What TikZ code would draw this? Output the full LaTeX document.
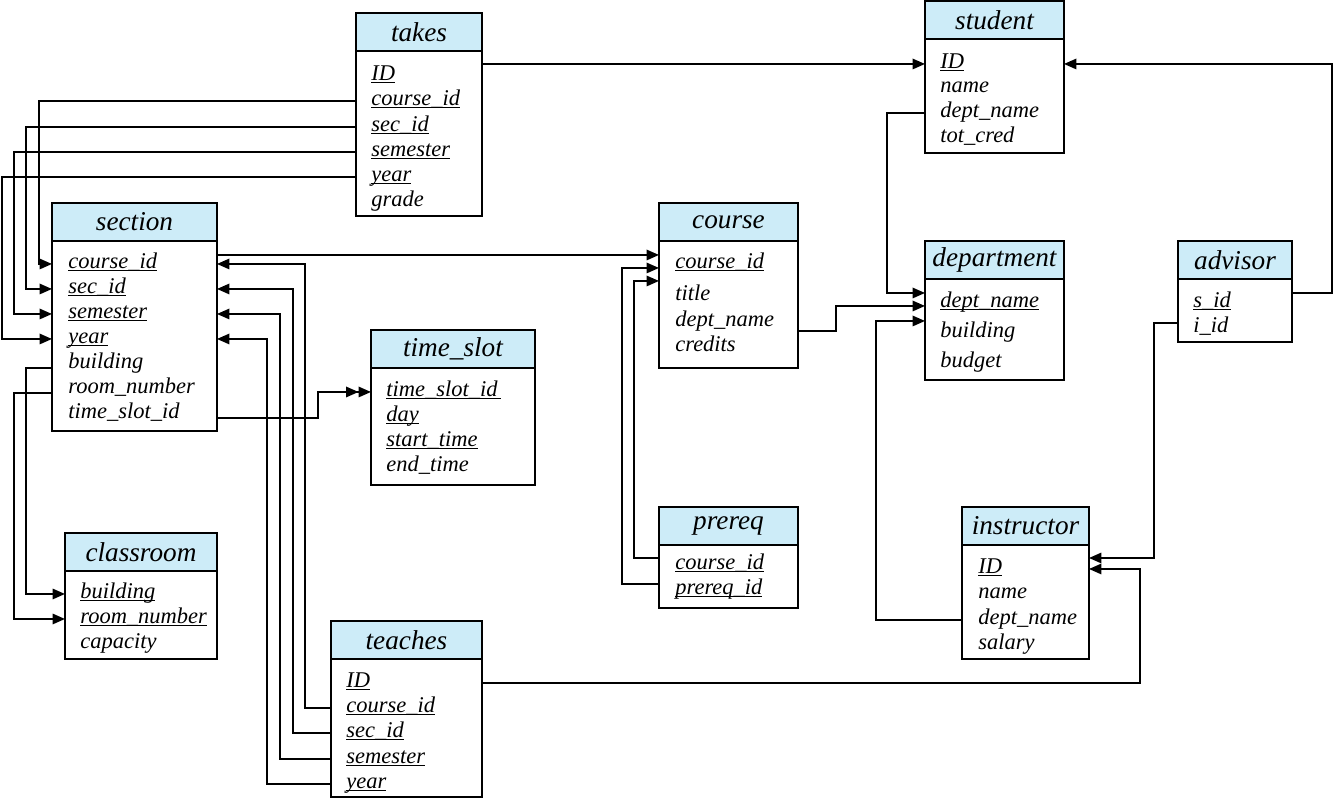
\documentclass[tikz,border=0pt]{standalone}
\usepackage{fontspec}
\setmainfont{Liberation Serif}
\usetikzlibrary{positioning,arrows.meta}
\definecolor{hdrblue}{RGB}{205,236,248}
\newcommand\pk[1]{\underline{\smash{#1}}}

\begin{document}
\begin{tikzpicture}[x=0.02cm,y=-0.02cm,
  hdr/.style={draw,line width=1.3pt,fill=hdrblue,anchor=north west,minimum height=0.76cm,
    inner sep=0pt,outer sep=0pt,font=\fontsize{15.5}{18}\selectfont\itshape},
  body/.style={draw,line width=1.3pt,inner sep=0pt,outer sep=0pt},
  row/.style={anchor=base west,inner sep=0pt,font=\fontsize{12.8}{15}\selectfont\itshape},
  fk/.style={line width=0.95pt,-{Triangle[length=0.25cm,width=0.21cm]}},
  fktwo/.style={line width=0.95pt,-{Triangle[length=0.25cm,width=0.21cm]Triangle[length=0.25cm,width=0.21cm]}}]

  \useasboundingbox (0,0) rectangle (1334,799);

  % takes
  \node[hdr,minimum width=2.52cm] (takes-h) at (356,13) {takes};
  \node[body,minimum width=2.52cm,minimum height=3.30cm,below=0pt of takes-h] (takes) {};
  \node[row] (takes-id)  at (371,80)  {\pk{ID}};
  \node[row] (takes-cid) at (371,105) {\pk{course\_id}};
  \node[row] (takes-sec) at (371,131) {\pk{sec\_id}};
  \node[row] (takes-sem) at (371,156) {\pk{semester}};
  \node[row] (takes-yr)  at (371,181) {\pk{year}};
  \node[row] (takes-gr)  at (371,206) {grade};

  % section
  \node[hdr,minimum width=3.30cm] (section-h) at (52,203) {section};
  \node[body,minimum width=3.30cm,minimum height=3.80cm,below=0pt of section-h] (section) {};
  \node[row] (section-cid)  at (68,268) {\pk{course\_id}};
  \node[row] (section-sec)  at (68,293) {\pk{sec\_id}};
  \node[row] (section-sem)  at (68,318) {\pk{semester}};
  \node[row] (section-yr)   at (68,343) {\pk{year}};
  \node[row] (section-bld)  at (68,368) {building};
  \node[row] (section-room) at (68,393) {room\_number};
  \node[row] (section-tsid) at (68,418) {time\_slot\_id};

  % time_slot
  \node[hdr,minimum width=3.28cm] (timeslot-h) at (371,330) {time\_slot};
  \node[body,minimum width=3.28cm,minimum height=2.34cm,below=0pt of timeslot-h] (timeslot) {};
  \node[row] (timeslot-tsid) at (386,396) {\pk{time\_slot\_id\,}};
  \node[row] (timeslot-day)  at (386,421) {\pk{day}};
  \node[row] (timeslot-st)   at (386,446) {\pk{start\_time}};
  \node[row] (timeslot-et)   at (386,471) {end\_time};

  % course
  \node[hdr,minimum width=2.78cm] (course-h) at (659,203) {course};
  \node[body,minimum width=2.78cm,minimum height=2.54cm,below=0pt of course-h] (course) {};
  \node[row] (course-cid) at (675,268) {\pk{course\_id}};
  \node[row] (course-ttl) at (675,300) {title};
  \node[row] (course-dn)  at (675,326) {dept\_name};
  \node[row] (course-cr)  at (675,351) {credits};

  % prereq
  \node[hdr,minimum width=2.78cm] (prereq-h) at (659,507) {prereq};
  \node[body,minimum width=2.78cm,minimum height=1.26cm,below=0pt of prereq-h] (prereq) {};
  \node[row] (prereq-cid) at (675,569) {\pk{course\_id}};
  \node[row] (prereq-pid) at (675,594) {\pk{prereq\_id}};

  % student
  \node[hdr,minimum width=2.78cm] (student-h) at (925,1) {student};
  \node[body,minimum width=2.78cm,minimum height=2.28cm,below=0pt of student-h] (student) {};
  \node[row] (student-id) at (940,68)  {\pk{ID}};
  \node[row] (student-nm) at (940,92)  {name};
  \node[row] (student-dn) at (940,117) {dept\_name};
  \node[row] (student-tc) at (940,142) {tot\_cred};

  % department
  \node[hdr,minimum width=2.78cm] (dept-h) at (925,241) {department};
  \node[body,minimum width=2.78cm,minimum height=2.02cm,below=0pt of dept-h] (department) {};
  \node[row] (dept-dn)  at (940,307) {\pk{dept\_name}};
  \node[row] (dept-bld) at (940,337) {building};
  \node[row] (dept-bud) at (940,367) {budget};

  % advisor
  \node[hdr,minimum width=2.28cm] (advisor-h) at (1178,241) {advisor};
  \node[body,minimum width=2.28cm,minimum height=1.26cm,below=0pt of advisor-h] (advisor) {};
  \node[row] (advisor-sid) at (1193,307) {\pk{s\_id}};
  \node[row] (advisor-iid) at (1193,332) {i\_id};

  % instructor
  \node[hdr,minimum width=2.54cm] (instr-h) at (962,507) {instructor};
  \node[body,minimum width=2.54cm,minimum height=2.28cm,below=0pt of instr-h] (instructor) {};
  \node[row] (instr-id) at (978,573) {\pk{ID}};
  \node[row] (instr-nm) at (978,598) {name};
  \node[row] (instr-dn) at (978,624) {dept\_name};
  \node[row] (instr-sal) at (978,649) {salary};

  % classroom
  \node[hdr,minimum width=3.04cm] (classroom-h) at (65,533) {classroom};
  \node[body,minimum width=3.04cm,minimum height=1.76cm,below=0pt of classroom-h] (classroom) {};
  \node[row] (classroom-bld) at (80,598) {\pk{building}};
  \node[row] (classroom-rn)  at (80,623) {\pk{room\_number}};
  \node[row] (classroom-cap) at (80,648) {capacity};

  % teaches
  \node[hdr,minimum width=3.02cm] (teaches-h) at (331,621) {teaches};
  \node[body,minimum width=3.02cm,minimum height=2.76cm,below=0pt of teaches-h] (teaches) {};
  \node[row] (teaches-id)  at (346,687) {\pk{ID}};
  \node[row] (teaches-cid) at (346,712) {\pk{course\_id}};
  \node[row] (teaches-sec) at (346,737) {\pk{sec\_id}};
  \node[row] (teaches-sem) at (346,763) {\pk{semester}};
  \node[row] (teaches-yr)  at (346,788) {\pk{year}};

  % arrow ends that sit between rows
  \coordinate (course-in1) at ([yshift=0.18cm]course.west |- course-cid.mid);
  \coordinate (course-in2) at ([yshift=-0.08cm]course.west |- course-cid.mid);
  \coordinate (course-in3) at ([yshift=-0.34cm]course.west |- course-cid.mid);
  \coordinate (dept-in1) at ([yshift=0.2cm]department.west |- dept-dn.mid);
  \coordinate (dept-in2) at ([yshift=-0.06cm]department.west |- dept-dn.mid);
  \coordinate (dept-in3) at ([yshift=-0.36cm]department.west |- dept-dn.mid);

  % takes -> student, section
  \draw[fk] (takes.east |- student-id.mid) -- (student.west |- student-id.mid);
  \draw[fk] (takes.west |- takes-cid.mid) -- ++(-317,0) |- (section.west |- section-cid.mid);
  \draw[fk] (takes.west |- takes-sec.mid) -- ++(-330,0) |- (section.west |- section-sec.mid);
  \draw[fk] (takes.west |- takes-sem.mid) -- ++(-342,0) |- (section.west |- section-sem.mid);
  \draw[fk] (takes.west |- takes-yr.mid) -- ++(-354,0) |- (section.west |- section-yr.mid);

  % section -> course, time_slot, classroom
  \draw[fk] (section.east |- course-in1) -- (course-in1);
  \draw[fktwo] (section.east |- section-tsid.base) -- ++(101,0) |- (timeslot.west |- timeslot-tsid.mid);
  \draw[fk] (section.west |- section-bld.base) -- ++(-26,0) |- (classroom.west |- classroom-bld.mid);
  \draw[fk] (section.west |- section-room.base) -- ++(-38,0) |- (classroom.west |- classroom-rn.mid);

  % teaches -> section, instructor
  \draw[fk] (teaches.west |- teaches-cid.mid) -- ++(-26,0) |- (section.east |- section-cid.mid);
  \draw[fk] (teaches.west |- teaches-sec.mid) -- ++(-38,0) |- (section.east |- section-sec.mid);
  \draw[fk] (teaches.west |- teaches-sem.mid) -- ++(-51,0) |- (section.east |- section-sem.mid);
  \draw[fk] (teaches.west |- teaches-yr.mid) -- ++(-64,0) |- (section.east |- section-yr.mid);
  \draw[fk] (teaches.east |- teaches-id.mid) -- ++(658,0) |- (instructor.east |- instr-id.mid);

  % prereq -> course
  \draw[fk] ([yshift=0.14cm]prereq.west |- prereq-cid.mid) -- ++(-25,0) |- (course-in3);
  \draw[fk] ([yshift=0.12cm]prereq.west |- prereq-pid.mid) -- ++(-37,0) |- (course-in2);

  % dept_name -> department
  \draw[fk] ([yshift=-0.18cm]course.east |- course-dn.mid) -- ++(38,0) |- (dept-in2);
  \draw[fk] (student.west |- student-dn.mid) -- ++(-38,0) |- (dept-in1);
  \draw[fk] (instructor.west |- instr-dn.mid) -- ++(-86,0) |- (dept-in3);

  % advisor -> student, instructor
  \draw[fk] ([yshift=0.2cm]advisor.east |- advisor-sid.mid) -- ++(40,0) |- (student.east |- student-id.mid);
  \draw[fk] ([yshift=0.1cm]advisor.west |- advisor-iid.mid) -- ++(-24,0) |- ([yshift=0.22cm]instructor.east |- instr-id.mid);

\end{tikzpicture}
\end{document}
